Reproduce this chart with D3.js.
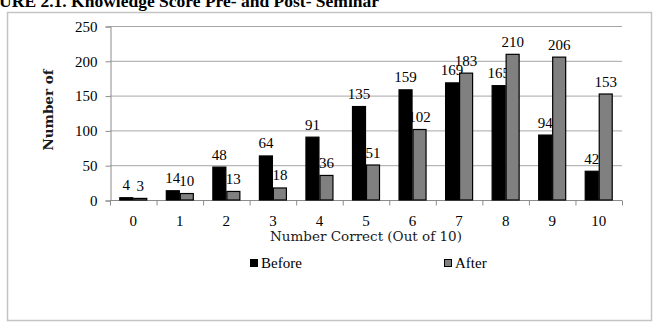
<!DOCTYPE html>
<html>
<head>
<meta charset="utf-8">
<script src="https://cdn.jsdelivr.net/npm/d3@7"></script>
<style>
  body { margin: 0; background: #fff; }
  svg { display: block; }
</style>
</head>
<body>
<svg id="chart" width="654" height="322"></svg>
<script>
// knowledge score counts, before and after the seminar
var scores = ['0', '1', '2', '3', '4', '5', '6', '7', '8', '9', '10'];
var before = [4, 14, 48, 64, 91, 135, 159, 169, 165, 94, 42];
var after = [3, 10, 13, 18, 36, 51, 102, 183, 210, 206, 153];
var seriesNames = ['Before', 'After'];
var yTicks = [0, 50, 100, 150, 200, 250];

var svg = d3.select('#chart');
var serif = '"Liberation Serif", "Times New Roman", serif';
var cambria = '"DejaVu Serif", serif';

var margin = {left: 110, right: 622, top: 26, bottom: 200};

var x = d3.scaleBand().domain(scores).range([margin.left, margin.right]);
var y = d3.scaleLinear().domain([0, 250]).range([margin.bottom, margin.top]);

// outer frame
svg.append('rect')
	.attr('x', 7.5).attr('y', 12.5)
	.attr('width', 644).attr('height', 308)
	.style('fill', 'none').style('stroke', '#c4c4c4').style('stroke-width', 1.5);

// title, cut at the top-left like the scan
svg.append('text')
	.attr('x', -32).attr('y', 7)
	.style('font-family', serif).style('font-weight', 'bold').style('font-size', '17.5px')
	.text('FIGURE 2.1. Knowledge Score Pre- and Post- Seminar');

// gridlines
svg.append('g').selectAll('line')
	.data(yTicks.filter(function(d) { return d > 0; }))
	.enter().append('line')
	.attr('x1', margin.left).attr('x2', margin.right)
	.attr('y1', function(d) { return y(d) + 0.5; })
	.attr('y2', function(d) { return y(d) + 0.5; })
	.style('stroke', '#a6a6a6').style('stroke-width', 1);

// y axis
var yAxis = svg.append('g')
	.attr('transform', 'translate(' + (margin.left + 0.5) + ',0.5)')
	.call(d3.axisLeft(y).tickValues(yTicks).tickSize(5).tickPadding(8));
yAxis.select('.domain').style('stroke', '#8c8c8c');
yAxis.selectAll('.tick line').style('stroke', '#8c8c8c');
yAxis.selectAll('text')
	.style('font-family', serif).style('font-size', '15px').style('fill', '#000');

// x axis: ticks at band boundaries
var xAxis = svg.append('g')
	.attr('transform', 'translate(0,' + (margin.bottom + 0.5) + ')');
xAxis.append('line')
	.attr('x1', margin.left).attr('x2', margin.right)
	.style('stroke', '#8c8c8c');
xAxis.selectAll('.bt')
	.data(scores.concat(['end']))
	.enter().append('line')
	.attr('class', 'bt')
	.attr('x1', function(d, i) { return margin.left + i * x.bandwidth() + 0.5; })
	.attr('x2', function(d, i) { return margin.left + i * x.bandwidth() + 0.5; })
	.attr('y1', 0).attr('y2', 5)
	.style('stroke', '#8c8c8c');
xAxis.selectAll('text')
	.data(scores)
	.enter().append('text')
	.attr('x', function(d) { return x(d) + x.bandwidth() / 2; })
	.attr('y', 25)
	.attr('text-anchor', 'middle')
	.style('font-family', serif).style('font-size', '15px')
	.text(function(d) { return d; });

// bars
var barW = 14;
var groups = [before, after];
var fills = ['#000000', '#808080'];
groups.forEach(function(vals, s) {
	var g = svg.append('g');
	g.selectAll('rect')
		.data(vals)
		.enter().append('rect')
		.attr('x', function(d, i) { return x(scores[i]) + x.bandwidth() / 2 - barW + s * barW + 0.5; })
		.attr('y', function(d) { return y(d) + 0.5; })
		.attr('width', barW - 1)
		.attr('height', function(d) { return y(0) - y(d) - 0.5; })
		.style('fill', fills[s]).style('stroke', '#000').style('stroke-width', 1.2);
	g.selectAll('text')
		.data(vals)
		.enter().append('text')
		.attr('x', function(d, i) { return x(scores[i]) + x.bandwidth() / 2 - barW + s * barW + barW / 2; })
		.attr('y', function(d) { return y(d) - 7; })
		.attr('text-anchor', 'middle')
		.style('font-family', serif).style('font-size', '15px')
		.text(function(d) { return d; });
});

// axis titles
svg.append('text')
	.attr('transform', 'translate(53,110) rotate(-90)')
	.attr('text-anchor', 'middle')
	.style('font-family', cambria).style('font-weight', 'bold').style('font-size', '13.5px')
	.style('fill', '#1a1a1a')
	.text('Number of');

svg.append('text')
	.attr('x', (margin.left + margin.right) / 2).attr('y', 241)
	.attr('text-anchor', 'middle')
	.style('font-family', cambria).style('font-size', '13.5px')
	.style('fill', '#1a1a1a')
	.text('Number Correct (Out of 10)');

// legend
var legendX = [250, 444];
seriesNames.forEach(function(name, s) {
	svg.append('rect')
		.attr('x', legendX[s] + 0.5).attr('y', 259.5)
		.attr('width', 7).attr('height', 7)
		.style('fill', fills[s]).style('stroke', '#000');
	svg.append('text')
		.attr('x', legendX[s] + 11).attr('y', 268)
		.style('font-family', serif).style('font-size', '15px')
		.text(name);
});
</script>
</body>
</html>
